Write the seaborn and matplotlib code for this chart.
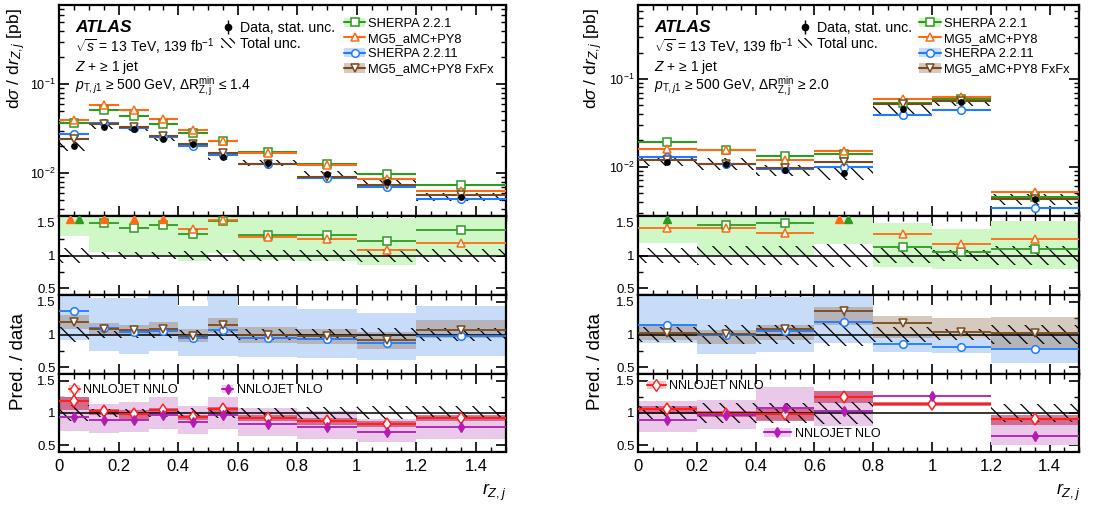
import numpy as np
import matplotlib
matplotlib.use("Agg")
import matplotlib.pyplot as plt
import seaborn as sns
import pandas as pd
from matplotlib.lines import Line2D
from matplotlib.patches import Patch
from matplotlib.legend import Legend
from matplotlib.legend_handler import HandlerTuple
from matplotlib.ticker import MultipleLocator, FixedLocator, FixedFormatter, LogLocator, NullFormatter

# ---------------- data ----------------
EDGES_L = [0, 0.1, 0.2, 0.3, 0.4, 0.5, 0.6, 0.8, 1.0, 1.2, 1.5]
EDGES_R = [0, 0.2, 0.4, 0.6, 0.8, 1.0, 1.2, 1.5]
EDGES_R_NNLOJET = [0, 0.2, 0.4, 0.6, 0.8, 1.2, 1.5]

data_L = [0.0203, 0.0334, 0.0315, 0.0245, 0.0212, 0.0154, 0.0131, 0.00974, 0.00805, 0.00546]
data_stat_L = [0.04, 0.03, 0.03, 0.03, 0.03, 0.03, 0.03, 0.04, 0.04, 0.05]
data_tot_L = [0.12, 0.06, 0.06, 0.06, 0.07, 0.08, 0.08, 0.09, 0.10, 0.10]
sh221_L = [0.0371, 0.0510, 0.0444, 0.0358, 0.0284, 0.0229, 0.0175, 0.0126, 0.00974, 0.00745]
mg5_L = [0.0397, 0.0590, 0.0519, 0.0404, 0.0304, 0.0231, 0.0169, 0.0123, 0.00863, 0.00633]
sh2211_L = [0.0274, 0.0367, 0.0323, 0.0256, 0.0204, 0.0161, 0.0126, 0.00893, 0.00707, 0.00514]
fxfx_L = [0.0241, 0.0358, 0.0329, 0.0260, 0.0212, 0.0168, 0.0128, 0.00917, 0.00739, 0.00570]

r_sh221_L = [1.83, 1.50, 1.417, 1.468, 1.32, 1.52, 1.315, 1.315, 1.214, 1.381]
r_sh221_lo_L = [1.295, 1.05, 1.01, 1.01, 0.914, 1.04, 0.934, 0.914, 0.858, 1.0]
r_sh221_hi_L = [2.3, 1.95, 1.82, 1.93, 1.73, 2.0, 1.70, 1.72, 1.57, 1.76]
r_mg5_L = [1.96, 1.77, 1.65, 1.65, 1.40, 1.535, 1.285, 1.254, 1.076, 1.183]
r_sh2211_L = [1.356, 1.10, 1.04, 1.056, 0.95, 1.076, 0.954, 0.93, 0.873, 0.975]
r_sh2211_lo_L = [0.924, 0.756, 0.71, 0.746, 0.67, 0.67, 0.665, 0.65, 0.62, 0.675]
r_sh2211_hi_L = [1.62, 1.56, 1.56, 1.62, 1.44, 1.62, 1.44, 1.39, 1.32, 1.44]
r_fxfx_L = [1.193, 1.09, 1.066, 1.08, 0.98, 1.14, 0.99, 0.97, 0.914, 1.076]
r_fxfx_lo_L = [1.09, 1.0, 0.99, 0.97, 0.88, 1.03, 0.87, 0.85, 0.78, 0.94]
r_fxfx_hi_L = [1.29, 1.18, 1.15, 1.19, 1.08, 1.25, 1.11, 1.09, 1.04, 1.22]
mc_stat_L = [0.05, 0.04, 0.04, 0.04, 0.05, 0.05, 0.04, 0.04, 0.05, 0.06]
nnlo_L = [1.19, 1.025, 0.985, 1.04, 0.934, 1.06, 0.924, 0.883, 0.827, 0.919]
nnlo_lo_L = [1.04, 0.975, 0.908, 1.0, 0.888, 1.015, 0.873, 0.822, 0.786, 0.873]
nnlo_hi_L = [1.244, 1.06, 1.04, 1.076, 0.964, 1.09, 0.964, 0.924, 0.873, 0.964]
nlo_L = [0.939, 0.888, 0.898, 0.964, 0.863, 0.964, 0.832, 0.786, 0.71, 0.78]
nlo_lo_L = [0.73, 0.695, 0.705, 0.746, 0.68, 0.756, 0.644, 0.603, 0.553, 0.603]
nlo_hi_L = [1.244, 1.142, 1.163, 1.239, 1.112, 1.239, 1.076, 1.025, 0.908, 0.949]

data_R = [0.0114, 0.0108, 0.00917, 0.0084, 0.0451, 0.0545, 0.0043]
data_stat_R = [0.04, 0.04, 0.05, 0.06, 0.05, 0.04, 0.06]
data_tot_R = [0.11, 0.15, 0.15, 0.17, 0.11, 0.09, 0.14]
sh221_R = [0.0191, 0.0155, 0.01324, 0.01396, 0.0528, 0.0587, 0.00452]
mg5_R = [0.0159, 0.0153, 0.0119, 0.0152, 0.0587, 0.0628, 0.00511]
sh2211_R = [0.0130, 0.0108, 0.00933, 0.00984, 0.0392, 0.0443, 0.00335]
fxfx_R = [0.01183, 0.0108, 0.00958, 0.01122, 0.0519, 0.0566, 0.00425]

r_sh221_R = [1.68, 1.468, 1.49, 1.66, 1.127, 1.06, 1.10]
r_sh221_lo_R = [1.19, 1.01, 1.01, 1.18, 0.83, 0.797, 0.80]
r_sh221_hi_R = [2.17, 1.93, 1.97, 2.14, 1.49, 1.407, 1.53]
r_mg5_R = [1.42, 1.417, 1.345, 1.81, 1.32, 1.178, 1.254]
r_sh2211_R = [1.15, 1.0, 1.056, 1.19, 0.853, 0.81, 0.786]
r_sh2211_lo_R = [0.873, 0.71, 0.736, 0.87, 0.736, 0.72, 0.573]
r_sh2211_hi_R = [1.62, 1.534, 1.575, 1.62, 0.97, 0.94, 1.04]
r_fxfx_R = [1.03, 1.01, 1.08, 1.356, 1.168, 1.04, 1.03]
r_fxfx_lo_R = [0.92, 0.86, 0.914, 1.14, 0.95, 0.95, 0.80]
r_fxfx_hi_R = [1.14, 1.076, 1.142, 1.42, 1.28, 1.25, 1.27]
mc_stat_R = [0.05, 0.06, 0.07, 0.07, 0.03, 0.03, 0.06]
nnlo_R = [1.06, 0.985, 0.99, 1.244, 1.137, 0.908]
nnlo_lo_R = [0.985, 0.94, 0.873, 1.153, 1.112, 0.822]
nnlo_hi_R = [1.11, 1.025, 1.06, 1.34, 1.168, 0.975]
nlo_R = [0.898, 0.975, 1.076, 1.025, 1.254, 0.644]
nlo_lo_R = [0.705, 0.746, 0.888, 0.797, np.nan, 0.50]
nlo_hi_R = [1.178, 1.203, 1.407, 1.34, np.nan, 0.898]
data_tot_R3 = [0.11, 0.15, 0.15, 0.17, np.nan, 0.14]

LABEL_SH221 = "SHERPA 2.2.1"
LABEL_MG5 = "MG5_aMC+PY8"
LABEL_SH2211 = "SHERPA 2.2.11"
LABEL_FXFX = "MG5_aMC+PY8 FxFx"
XTICKS = [0, 0.2, 0.4, 0.6, 0.8, 1.0, 1.2, 1.4]
XTICKLABELS = ["0", "0.2", "0.4", "0.6", "0.8", "1", "1.2", "1.4"]
RTICKS = [0.5, 1.0, 1.5]
RTICKLABELS = ["0.5", "1", "1.5"]

# ---------------- style ----------------
sns.set_theme(style="ticks")
plt.rcParams['font.family'] = ['Liberation Sans', 'DejaVu Sans']
plt.rcParams.update({
    'mathtext.fontset': 'custom',
    'mathtext.rm': 'Liberation Sans',
    'mathtext.it': 'Liberation Sans:italic',
    'mathtext.bf': 'Liberation Sans:bold',
    'axes.edgecolor': 'black', 'axes.linewidth': 1.6,
    'xtick.color': 'black', 'ytick.color': 'black', 'text.color': 'black',
    'axes.labelcolor': 'black',
    'hatch.linewidth': 0.9, 'hatch.color': 'black',
})

GREEN = '#2f9a22'; GREEN_BAND = '#d0f7c6'
ORANGE = '#ff6a12'
BLUE = '#1f7cff'; BLUE_BAND = '#c6dcf9'
BROWN = '#7a4a1c'; BROWN_BAND = '#9a7a5c'
RED = '#ff1f1f'; NNLO_BAND = '#c94468'
PURPLE = '#b21cb2'; NLO_BAND = '#e9c8e9'

RMIN, RMAX = 0.4, 1.6
HATCH = '\\\\'
TUP = {tuple: HandlerTuple(ndivide=1)}


def centers(edges):
    e = np.asarray(edges, float)
    return 0.5 * (e[:-1] + e[1:])


def steps(ax, edges, vals, color, lw=1.5, z=4):
    e = np.asarray(edges, float)
    ax.hlines(np.asarray(vals, float), e[:-1], e[1:], colors=color, lw=lw, zorder=z)


def band(ax, edges, lo, hi, color, alpha=1.0, z=1):
    e = np.asarray(edges, float)
    lo = np.asarray(lo, float); hi = np.asarray(hi, float)
    m = ~np.isnan(lo)
    ax.bar(e[:-1][m], (hi - lo)[m], bottom=lo[m], width=np.diff(e)[m], align='edge',
           color=color, alpha=alpha, lw=0, zorder=z)


def hatch(ax, edges, lo, hi, z=2):
    e = np.asarray(edges, float)
    lo = np.asarray(lo, float); hi = np.asarray(hi, float)
    m = ~np.isnan(lo)
    ax.bar(e[:-1][m], (hi - lo)[m], bottom=lo[m], width=np.diff(e)[m], align='edge',
           facecolor='none', edgecolor='black', hatch=HATCH, lw=0, zorder=z)


def style_axis(ax, xlabels=False, ylabelsize=9.5):
    ax.set_xlim(0, 1.5)
    ax.xaxis.set_major_locator(FixedLocator(XTICKS))
    ax.xaxis.set_minor_locator(MultipleLocator(0.05))
    if xlabels:
        ax.xaxis.set_major_formatter(FixedFormatter(XTICKLABELS))
    else:
        ax.tick_params(axis='x', labelbottom=False)
    ax.tick_params(which='both', direction='in', top=True, right=True)
    ax.tick_params(which='major', length=7, width=1.2)
    ax.tick_params(which='minor', length=3.5, width=1.0)
    ax.tick_params(axis='x', labelsize=12, pad=5)
    ax.tick_params(axis='y', labelsize=ylabelsize, pad=2.5)


def ratio_axis(ax):
    ax.set_ylim(RMIN, RMAX)
    ax.yaxis.set_major_locator(FixedLocator(RTICKS))
    ax.yaxis.set_major_formatter(FixedFormatter(RTICKLABELS))
    ax.yaxis.set_minor_locator(MultipleLocator(0.25))
    ax.axhline(1.0, color='black', lw=1.1, zorder=3)


def mc_markers(ax, edges, vals, stat, color, marker):
    c = centers(edges)
    v = np.asarray(vals, float)
    s = np.asarray(stat, float)
    m = v < RMAX - 0.02
    ax.errorbar(c[m], v[m], yerr=s[m], fmt=marker, mfc='white', mec=color, ecolor=color,
                ms=5.5, mew=1.1, elinewidth=1.0, capsize=0, zorder=6)


def offscale(ax, edges, va, vb, ca, cb):
    c = centers(edges)
    va = np.asarray(va, float); vb = np.asarray(vb, float)
    for i in range(len(c)):
        oa, ob = va[i] >= RMAX - 0.02, vb[i] >= RMAX - 0.02
        if oa and ob:
            ax.plot([c[i] - 0.015], [1.55], '^', color=ca, ms=6, zorder=7)
            ax.plot([c[i] + 0.015], [1.55], '^', color=cb, ms=6, zorder=7)
        elif oa:
            ax.plot([c[i]], [1.55], '^', color=ca, ms=6, zorder=7)
        elif ob:
            ax.plot([c[i]], [1.55], '^', color=cb, ms=6, zorder=7)


def draw_panel(fig, x0, w, D, cut_text, ylim):
    ax0 = fig.add_axes([x0, 0.5723, w, 0.4178])
    ax1 = fig.add_axes([x0, 0.4158, w, 0.1565], sharex=ax0)
    ax2 = fig.add_axes([x0, 0.2594, w, 0.1564], sharex=ax0)
    ax3 = fig.add_axes([x0, 0.1050, w, 0.1544], sharex=ax0)
    E = D['edges']; C = centers(E)
    data = np.asarray(D['data']); tot = np.asarray(D['tot'])

    # main panel
    ax0.set_yscale('log')
    hatch(ax0, E, data * (1 - tot), data * (1 + tot))
    steps(ax0, E, D['sh221'], GREEN)
    steps(ax0, E, D['mg5'], ORANGE)
    steps(ax0, E, D['sh2211'], BLUE)
    steps(ax0, E, D['fxfx'], BROWN)
    for vals, col, mk in [(D['sh221'], GREEN, 's'), (D['mg5'], ORANGE, '^'),
                          (D['sh2211'], BLUE, 'o'), (D['fxfx'], BROWN, 'v')]:
        ax0.plot(C, vals, ls='none', marker=mk, mfc='white', mec=col, ms=5.5, mew=1.1, zorder=6)
    ax0.errorbar(C, data, yerr=data * np.asarray(D['stat']), fmt='none', ecolor='black',
                 elinewidth=1.0, zorder=7)
    df = pd.DataFrame({'x': C, 'y': data})
    sns.scatterplot(data=df, x='x', y='y', ax=ax0, color='black', s=24, linewidth=0, zorder=8,
                    legend=False)
    ax0.set_xlabel('')
    ax0.set_ylim(*ylim)
    ax0.yaxis.set_major_locator(LogLocator(base=10, numticks=10))
    ax0.yaxis.set_minor_locator(LogLocator(base=10, subs=np.arange(2, 10), numticks=20))
    ax0.yaxis.set_minor_formatter(NullFormatter())
    style_axis(ax0, ylabelsize=9)
    ax0.set_ylabel(r"d$\sigma$ / d$r_{Z,j}$ [pb]", fontsize=12.5, loc='top')
    ax0.yaxis.set_label_coords(D['ylab_x'], 0.985)

    ax0.text(0.036, 0.895, 'ATLAS', transform=ax0.transAxes, fontsize=12.5,
             fontweight='bold', fontstyle='italic', va='center')
    ax0.text(0.036, 0.80, r"$\sqrt{s}$ = 13 TeV, 139 fb$^{-1}$", transform=ax0.transAxes,
             fontsize=10, va='center')
    ax0.text(0.036, 0.707, r"$Z$ + ≥ 1 jet", transform=ax0.transAxes, fontsize=10, va='center')
    ax0.text(0.036, 0.615, cut_text, transform=ax0.transAxes, fontsize=10, va='center')

    h_data = (Line2D([], [], marker='|', color='black', ls='none', ms=10, mew=1.0),
              Line2D([], [], marker='o', color='black', ls='none', ms=4.5))
    h_tot = Patch(facecolor='none', edgecolor='black', hatch='\\\\\\\\', lw=0)
    leg1 = Legend(ax0, [h_data, h_tot], ["Data, stat. unc.", "Total unc."],
                  loc='upper left', bbox_to_anchor=(0.362, 0.926), frameon=False,
                  fontsize=10.2, handlelength=1.0, handletextpad=0.35, labelspacing=0.15,
                  borderaxespad=0, borderpad=0, handler_map=TUP)
    ax0.add_artist(leg1)

    def mch(col, mk, bandcol, alpha=1.0):
        ln = Line2D([], [], color=col, marker=mk, mfc='white', mec=col, ms=5.5, mew=1.1, lw=1.5)
        if bandcol is None:
            return ln
        return (Patch(facecolor=bandcol, alpha=alpha, lw=0), ln)

    hs = [mch(GREEN, 's', GREEN_BAND), mch(ORANGE, '^', None),
          mch(BLUE, 'o', BLUE_BAND), mch(BROWN, 'v', BROWN_BAND, 0.4)]
    leg2 = Legend(ax0, hs, [LABEL_SH221, LABEL_MG5, LABEL_SH2211, LABEL_FXFX],
                  loc='upper left', bbox_to_anchor=(0.638, 0.94), frameon=False,
                  fontsize=9.3, handlelength=1.65, handletextpad=0.22, labelspacing=0.25,
                  borderaxespad=0, borderpad=0, handler_map=TUP)
    ax0.add_artist(leg2)

    # ratio 1: Sherpa 2.2.1 and MG5
    ratio_axis(ax1)
    band(ax1, E, D['r_sh221_lo'], D['r_sh221_hi'], GREEN_BAND, z=1)
    hatch(ax1, E, 1 - tot, 1 + tot)
    steps(ax1, E, D['r_sh221'], GREEN, lw=1.3)
    steps(ax1, E, D['r_mg5'], ORANGE, lw=1.3)
    mc_markers(ax1, E, D['r_sh221'], D['mc_stat'], GREEN, 's')
    mc_markers(ax1, E, D['r_mg5'], D['mc_stat'], ORANGE, '^')
    offscale(ax1, E, D['r_mg5'], D['r_sh221'], ORANGE, GREEN)
    style_axis(ax1)

    # ratio 2: Sherpa 2.2.11 and FxFx
    ratio_axis(ax2)
    band(ax2, E, D['r_sh2211_lo'], D['r_sh2211_hi'], BLUE_BAND, z=1)
    band(ax2, E, D['r_fxfx_lo'], D['r_fxfx_hi'], BROWN_BAND, alpha=0.4, z=1.5)
    hatch(ax2, E, 1 - tot, 1 + tot)
    steps(ax2, E, D['r_sh2211'], BLUE, lw=1.3)
    steps(ax2, E, D['r_fxfx'], BROWN, lw=1.3)
    mc_markers(ax2, E, D['r_sh2211'], D['mc_stat'], BLUE, 'o')
    mc_markers(ax2, E, D['r_fxfx'], D['mc_stat'], BROWN, 'v')
    offscale(ax2, E, D['r_sh2211'], D['r_fxfx'], BLUE, BROWN)
    style_axis(ax2)

    # ratio 3: NNLOJET
    E3 = D['edges3']; C3 = centers(E3)
    tot3 = np.asarray(D['tot3'], float)
    ratio_axis(ax3)
    band(ax3, E3, D['nlo_lo'], D['nlo_hi'], NLO_BAND, z=1)
    band(ax3, E3, D['nnlo_lo'], D['nnlo_hi'], NNLO_BAND, alpha=0.7, z=1.5)
    hatch(ax3, E3, 1 - tot3, 1 + tot3)
    steps(ax3, E3, D['nnlo'], RED, lw=1.5)
    steps(ax3, E3, D['nlo'], PURPLE, lw=1.3)
    ax3.errorbar(C3, D['nnlo'], yerr=0.06, fmt='d', mfc='white', mec=RED, ecolor=RED,
                 ms=6.5, mew=1.1, elinewidth=1.0, zorder=6)
    ax3.errorbar(C3, D['nlo'], yerr=0.05, fmt='d', mfc=PURPLE, mec=PURPLE, ecolor=PURPLE,
                 ms=5, mew=1.0, elinewidth=1.0, zorder=6)
    style_axis(ax3, xlabels=True)

    h_nnlo = (Patch(facecolor='#f6c9cc', lw=0),
              Line2D([], [], color=RED, marker='d', mfc='white', mec=RED, ms=6.5, lw=1.5))
    h_nlo = (Patch(facecolor='#f0cdf0', lw=0),
             Line2D([], [], color=PURPLE, marker='d', mfc=PURPLE, mec=PURPLE, ms=5, lw=1.5))
    for h, lab, pos, hl in D['nnlojet_leg']:
        hh = h_nnlo if h == 'nnlo' else h_nlo
        lg = Legend(ax3, [hh], [lab], loc='center left', bbox_to_anchor=pos, frameon=False,
                    fontsize=9, handlelength=hl, handletextpad=0.3, borderaxespad=0,
                    borderpad=0, handler_map=TUP)
        ax3.add_artist(lg)
    return ax0, ax1, ax2, ax3


fig = plt.figure(figsize=(11.04, 5.05), dpi=100)

DL = dict(edges=EDGES_L, data=data_L, stat=data_stat_L, tot=data_tot_L,
          sh221=sh221_L, mg5=mg5_L, sh2211=sh2211_L, fxfx=fxfx_L,
          r_sh221=r_sh221_L, r_sh221_lo=r_sh221_lo_L, r_sh221_hi=r_sh221_hi_L,
          r_mg5=r_mg5_L, r_sh2211=r_sh2211_L, r_sh2211_lo=r_sh2211_lo_L,
          r_sh2211_hi=r_sh2211_hi_L, r_fxfx=r_fxfx_L, r_fxfx_lo=r_fxfx_lo_L,
          r_fxfx_hi=r_fxfx_hi_L, mc_stat=mc_stat_L,
          edges3=EDGES_L, tot3=data_tot_L, nnlo=nnlo_L, nnlo_lo=nnlo_lo_L, nnlo_hi=nnlo_hi_L,
          nlo=nlo_L, nlo_lo=nlo_lo_L, nlo_hi=nlo_hi_L, ylab_x=-0.07,
          nnlojet_leg=[('nnlo', 'NNLOJET NNLO', (0.022, 0.79), 0.85),
                       ('nlo', 'NNLOJET NLO', (0.365, 0.79), 0.85)])
DR = dict(edges=EDGES_R, data=data_R, stat=data_stat_R, tot=data_tot_R,
          sh221=sh221_R, mg5=mg5_R, sh2211=sh2211_R, fxfx=fxfx_R,
          r_sh221=r_sh221_R, r_sh221_lo=r_sh221_lo_R, r_sh221_hi=r_sh221_hi_R,
          r_mg5=r_mg5_R, r_sh2211=r_sh2211_R, r_sh2211_lo=r_sh2211_lo_R,
          r_sh2211_hi=r_sh2211_hi_R, r_fxfx=r_fxfx_R, r_fxfx_lo=r_fxfx_lo_R,
          r_fxfx_hi=r_fxfx_hi_R, mc_stat=mc_stat_R,
          edges3=EDGES_R_NNLOJET, tot3=data_tot_R3, nnlo=nnlo_R, nnlo_lo=nnlo_lo_R,
          nnlo_hi=nnlo_hi_R, nlo=nlo_R, nlo_lo=nlo_lo_R, nlo_hi=nlo_hi_R, ylab_x=-0.074,
          nnlojet_leg=[('nnlo', 'NNLOJET NNLO', (0.02, 0.84), 1.5),
                       ('nlo', 'NNLOJET NLO', (0.285, 0.235), 2.2)])

cut_L = r"$p_{\mathrm{T},j1}$ ≥ 500 GeV, $\Delta\mathrm{R}^{\mathrm{min}}_{\mathrm{Z,j}}$ ≤ 1.4"
cut_R = r"$p_{\mathrm{T},j1}$ ≥ 500 GeV, $\Delta\mathrm{R}^{\mathrm{min}}_{\mathrm{Z,j}}$ ≥ 2.0"

draw_panel(fig, 0.0537, 0.4043, DL, cut_L, (0.00331, 0.778))
draw_panel(fig, 0.5779, 0.3995, DR, cut_R, (0.00274, 0.698))

for xf in (0.017, 0.539):
    fig.text(xf, 0.285, "Pred. / data", rotation=90, fontsize=13.5, ha='center', va='center')
for xf in (0.448, 0.968):
    fig.text(xf, 0.025, r"$r_{Z,j}$", fontsize=13, ha='center', va='center')

fig.savefig("out.png", dpi=100)
